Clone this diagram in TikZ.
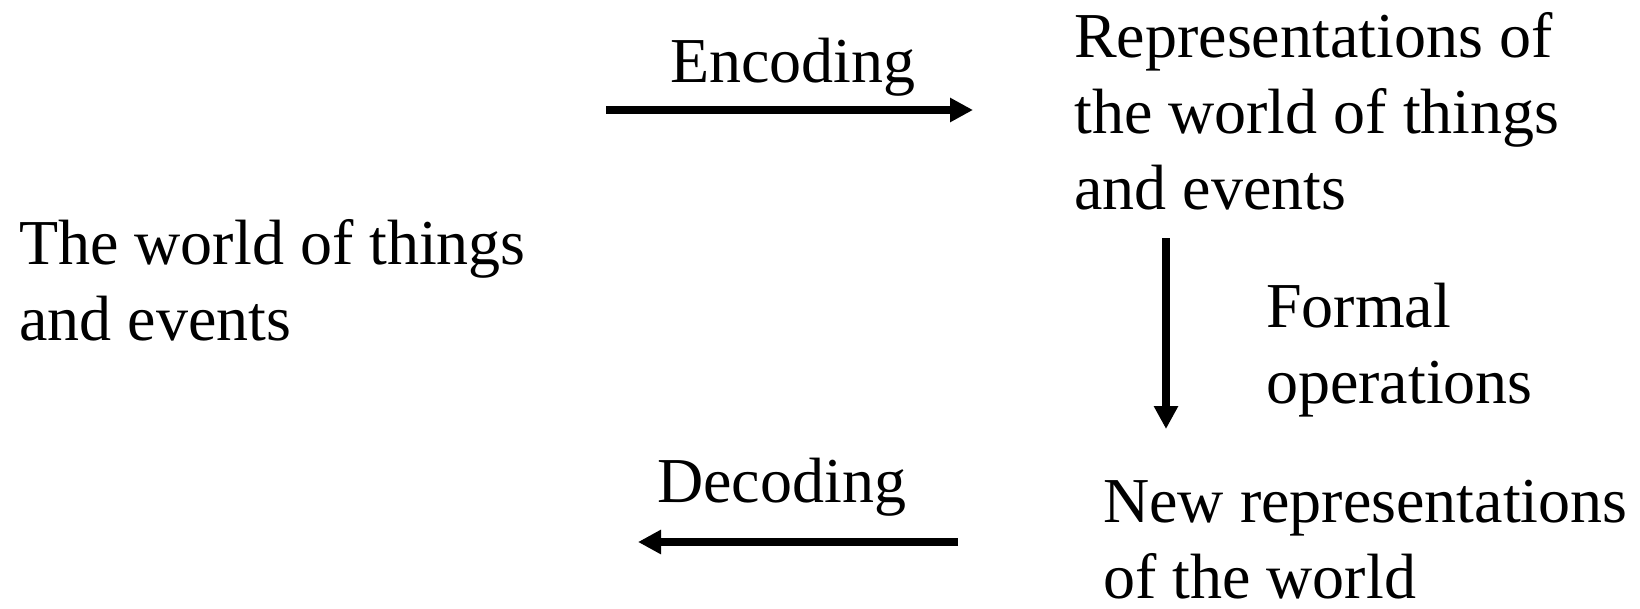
\documentclass[tikz,border=0pt]{standalone}
\usepackage{fontspec}
\setmainfont{Liberation Serif}
\usetikzlibrary{arrows.meta}
\tikzset{
  lbl/.style={anchor=base west, inner sep=0pt, align=left, font=\fontsize{64}{76}\selectfont},
  arr/.style={line width=8pt, -{Triangle[length=23pt,width=23pt]}}
}
\begin{document}
\begin{tikzpicture}[x=1pt,y=-1pt]
\useasboundingbox (0,0) rectangle (1640,608);
\node[lbl] (world) at (19,340) {The world of things\\and events};
\node[lbl] (enc) at (670,82) {Encoding};
\node[lbl] (rep) at (1074,209) {Representations of\\the world of things\\and events};
\node[lbl] (formal) at (1266,403) {Formal\\operations};
\node[lbl] (dec) at (657,502) {Decoding};
\node[lbl] (newrep) at (1103,598) {New representations\\of the world};
\coordinate (encS) at (606,110);
\coordinate (encE) at (973,110);
\coordinate (opS) at (1166,238);
\coordinate (opE) at (1166,429);
\coordinate (decS) at (958,542);
\coordinate (decE) at (638,542);
\draw[arr] (encS) -- (encE);
\draw[arr] (opS) -- (opE);
\draw[arr] (decS) -- (decE);
\end{tikzpicture}
\end{document}
